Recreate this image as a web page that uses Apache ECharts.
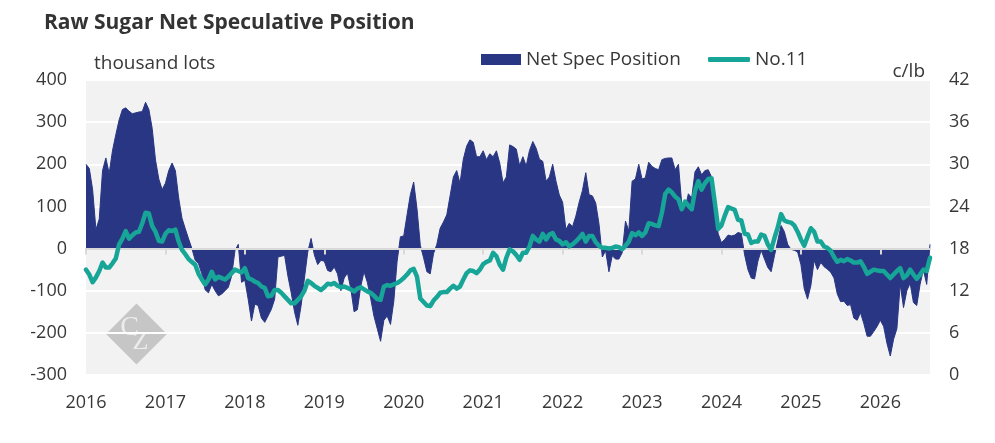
<!DOCTYPE html>
<html>
<head>
<meta charset="utf-8">
<title>Raw Sugar Net Speculative Position</title>
<script src="https://cdn.jsdelivr.net/npm/echarts@6/dist/echarts.min.js"></script>
<style>
html, body { margin: 0; padding: 0; background: #fff; }
#chart { width: 995px; height: 443px; }
</style>
</head>
<body>
<div id="chart"></div>
<script>
// year ticks on the x axis
var yearTicks = [2016, 2017, 2018, 2019, 2020, 2021, 2022, 2023, 2024, 2025, 2026];

// net speculative position, thousand lots, read twice a month (1st and 16th)
var net2016 = [200, 190, 140, 45, 70, 185, 215, 178, 232, 270, 305, 330, 334, 326, 320, 322, 324, 325, 347, 330, 285, 210, 165, 140];
var net2017 = [155, 185, 203, 185, 120, 72, 47, 23, 0, -28, -36, -60, -98, -105, -85, -100, -112, -108, -100, -92, -65, -5, 10, -80];
var net2018 = [-75, -120, -172, -132, -135, -165, -175, -160, -144, -120, -20, -18, -16, -65, -105, -150, -182, -135, -70, -8, 24, -15, -38, -28];
var net2019 = [-30, -52, -55, -44, -60, -100, -70, -58, -95, -150, -145, -90, -55, -80, -118, -160, -190, -220, -170, -160, -180, -125, -30, 28];
var net2020 = [30, 80, 128, 158, 95, 8, -22, -55, -60, -12, 10, 48, 63, 80, 125, 170, 185, 155, 212, 243, 258, 252, 218, 218];
var net2021 = [232, 211, 225, 218, 232, 203, 156, 170, 246, 242, 236, 197, 218, 196, 233, 254, 238, 212, 207, 160, 170, 200, 160, 127];
var net2022 = [110, 45, 60, 52, 77, 110, 138, 180, 128, 125, 108, 58, -20, -5, -55, -17, -25, -25, -10, 65, 42, 160, 165, 200];
var net2023 = [165, 168, 205, 195, 190, 187, 211, 214, 215, 215, 187, 200, 105, 95, 130, 120, 182, 194, 175, 185, 187, 170, 100, 35];
var net2024 = [14, 22, 32, 30, 32, 38, 36, -15, -50, -70, -72, -30, -4, -25, -45, -55, -17, 18, 55, 40, 10, -2, -4, -8];
var net2025 = [-38, -95, -120, -88, -28, -50, -33, -43, -49, -56, -70, -108, -126, -125, -135, -133, -165, -170, -152, -178, -208, -208, -197, -185];
var net2026 = [-170, -185, -225, -255, -215, -190, -85, -140, -100, -82, -128, -135, -85, -50, -85, 10];

// No.11 raw sugar futures, c/lb, same dates
var no11_2016 = [15.0, 14.3, 13.2, 13.9, 14.8, 16.0, 15.3, 15.3, 15.9, 16.6, 18.6, 19.4, 20.5, 19.4, 19.9, 20.3, 20.4, 21.6, 23.1, 23.0, 21.2, 20.4, 19.1, 19.0];
var no11_2017 = [20.1, 20.6, 20.5, 20.7, 19.0, 17.8, 17.2, 16.5, 16.1, 15.7, 14.4, 13.6, 12.9, 13.6, 14.7, 13.6, 14.0, 13.8, 13.6, 14.0, 14.5, 15.0, 14.8, 14.6];
var no11_2018 = [15.2, 13.8, 13.6, 13.3, 13.1, 12.6, 12.4, 11.2, 11.3, 12.1, 12.1, 11.7, 11.2, 10.7, 10.2, 10.2, 10.7, 11.2, 12.0, 13.4, 13.1, 12.7, 12.4, 12.1];
var no11_2019 = [12.5, 13.0, 12.9, 13.1, 12.7, 12.5, 12.6, 12.4, 12.2, 11.9, 12.3, 12.5, 12.2, 11.9, 11.7, 11.3, 10.8, 10.7, 12.6, 12.8, 12.7, 12.9, 13.1, 13.4];
var no11_2020 = [13.8, 14.3, 14.9, 15.1, 14.0, 10.9, 10.4, 9.9, 9.8, 10.6, 11.1, 11.7, 11.8, 11.8, 12.3, 12.7, 12.3, 12.6, 13.6, 14.5, 14.9, 14.8, 14.5, 15.0];
var no11_2021 = [15.8, 16.1, 16.3, 17.4, 16.9, 15.7, 15.0, 16.7, 17.9, 17.6, 17.1, 16.4, 17.4, 17.4, 18.3, 19.8, 19.3, 19.0, 20.1, 19.3, 20.0, 20.2, 19.3, 19.1];
var no11_2022 = [18.6, 18.9, 18.3, 18.6, 19.0, 19.5, 20.1, 19.0, 19.8, 19.8, 18.9, 18.4, 18.1, 18.1, 18.0, 18.1, 18.3, 18.2, 17.9, 18.4, 19.0, 20.2, 19.9, 20.3];
var no11_2023 = [19.8, 20.3, 21.6, 21.5, 21.3, 21.2, 23.1, 25.8, 26.4, 26.0, 25.4, 25.0, 23.6, 24.7, 24.1, 23.6, 26.2, 27.6, 26.4, 27.3, 27.9, 28.0, 24.5, 20.8];
var no11_2024 = [21.3, 22.7, 23.9, 23.7, 23.5, 22.1, 22.0, 20.1, 20.0, 18.8, 19.0, 19.0, 20.0, 19.8, 18.6, 17.8, 19.5, 21.0, 22.9, 22.0, 21.8, 21.7, 21.3, 20.4];
var no11_2025 = [19.3, 18.4, 19.7, 20.9, 20.4, 19.0, 19.0, 18.3, 18.1, 17.7, 16.8, 16.1, 16.4, 16.2, 16.5, 16.3, 16.0, 16.0, 16.2, 15.4, 14.4, 14.7, 15.0, 14.9];
var no11_2026 = [14.8, 14.8, 14.3, 13.8, 14.3, 14.8, 15.2, 13.8, 14.2, 15.0, 14.3, 13.7, 14.3, 15.0, 14.8, 16.7];

var netByYear = [net2016, net2017, net2018, net2019, net2020, net2021, net2022, net2023, net2024, net2025, net2026];
var no11ByYear = [no11_2016, no11_2017, no11_2018, no11_2019, no11_2020, no11_2021, no11_2022, no11_2023, no11_2024, no11_2025, no11_2026];

// [decimal year, value], two readings per month
function toPoints(rows) {
	var pts = [];
	for (var i = 0; i < rows.length; i++) {
		for (var k = 0; k < rows[i].length; k++) {
			pts.push([yearTicks[i] + k / 24, rows[i][k]]);
		}
	}
	return pts;
}

var netData = toPoints(netByYear);
var no11Data = toPoints(no11ByYear);
var xMax = netData[netData.length - 1][0];

var font = 'Open Sans';
var txt = '#383838';
var navy = '#293683';
var teal = '#17a598';

var option = {
	animation: false,
	textStyle: { fontFamily: font },
	title: {
		text: 'Raw Sugar Net Speculative Position',
		left: 39,
		top: 8,
		textStyle: { fontFamily: font, fontSize: 21, fontWeight: 'bold', color: '#333333' }
	},
	legend: [{
		left: 476,
		top: 45,
		itemWidth: 40,
		itemHeight: 11,
		textStyle: { fontFamily: font, fontSize: 19, color: txt },
		data: [{ name: 'Net Spec Position', icon: 'rect' }]
	}, {
		left: 703,
		top: 45,
		itemWidth: 42,
		itemHeight: 5,
		textStyle: { fontFamily: font, fontSize: 19, color: txt },
		data: [{ name: 'No.11', icon: 'roundRect' }]
	}],
	grid: {
		left: 86,
		right: 65,
		top: 80,
		bottom: 68,
		show: true,
		backgroundColor: '#f2f2f2',
		borderWidth: 0
	},
	xAxis: [{
		type: 'value',
		min: 2016,
		max: xMax,
		position: 'bottom',
		axisLine: { show: false, onZero: false },
		axisTick: { show: false },
		splitLine: { show: false },
		axisLabel: {
			customValues: yearTicks,
			margin: 19,
			fontSize: 18,
			color: txt,
			fontFamily: font,
			formatter: function (v) { return String(v); }
		}
	}, {
		// zero line with the year ticks hanging below it
		type: 'value',
		min: 2016,
		max: xMax,
		position: 'top',
		z: 3,
		axisLine: { show: true, onZero: true, onZeroAxisIndex: 0, lineStyle: { color: '#d9d9d9', width: 2 } },
		axisTick: { show: true, inside: true, length: 6, customValues: yearTicks, lineStyle: { color: '#d9d9d9', width: 2 } },
		axisLabel: { show: false },
		splitLine: { show: false }
	}],
	yAxis: [{
		type: 'value',
		min: -300,
		max: 400,
		interval: 100,
		axisLine: { show: false },
		axisTick: { show: false },
		splitLine: { lineStyle: { color: '#ffffff', width: 2 } },
		axisLabel: { margin: 19, fontSize: 18, color: txt, fontFamily: font }
	}, {
		type: 'value',
		min: 0,
		max: 42,
		interval: 6,
		position: 'right',
		axisLine: { show: false },
		axisTick: { show: false },
		splitLine: { show: false },
		axisLabel: { margin: 19, fontSize: 18, color: txt, fontFamily: font }
	}],
	graphic: [{
		type: 'text',
		left: 94,
		top: 54,
		style: { text: 'thousand lots', fontSize: 19, fontFamily: font, fill: txt }
	}, {
		type: 'text',
		right: 70,
		top: 62,
		style: { text: 'c/lb', fontSize: 19, fontFamily: font, fill: txt }
	}, {
		type: 'group',
		x: 136.5,
		y: 334,
		z: 1,
		children: [{
			type: 'rect',
			rotation: Math.PI / 4,
			shape: { x: -21.5, y: -21.5, width: 43, height: 43 },
			style: { fill: '#c6c6c6' }
		}, {
			type: 'text',
			x: -7,
			y: -6,
			style: { text: 'C', fontSize: 28, fontFamily: 'Liberation Serif', fill: '#ececec', align: 'center', verticalAlign: 'middle' }
		}, {
			type: 'text',
			x: 4,
			y: 8,
			style: { text: 'Z', fontSize: 26, fontFamily: 'Liberation Serif', fill: '#ececec', align: 'center', verticalAlign: 'middle' }
		}]
	}],
	series: [{
		name: 'Net Spec Position',
		type: 'line',
		xAxisIndex: 0,
		yAxisIndex: 0,
		data: netData,
		symbol: 'none',
		z: 2,
		lineStyle: { color: navy, width: 1 },
		itemStyle: { color: navy },
		areaStyle: { color: navy, opacity: 1 }
	}, {
		name: 'No.11',
		type: 'line',
		xAxisIndex: 0,
		yAxisIndex: 1,
		data: no11Data,
		symbol: 'none',
		z: 5,
		lineStyle: { color: teal, width: 4.5, cap: 'round', join: 'round' },
		itemStyle: { color: teal }
	}]
};

var myChart = echarts.init(document.getElementById('chart'));
myChart.setOption(option);
</script>
</body>
</html>
